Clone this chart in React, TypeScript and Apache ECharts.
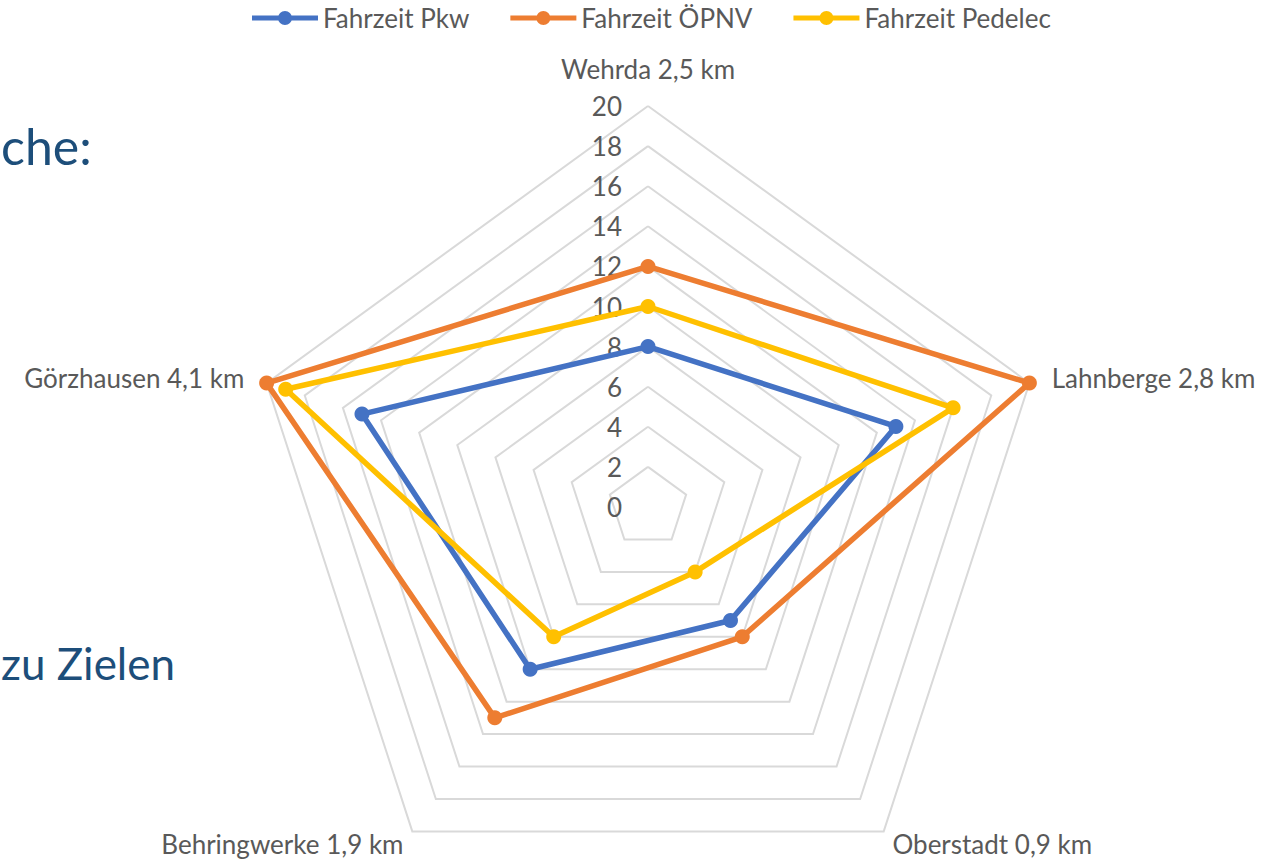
import React, { useEffect, useRef } from 'react';
import * as echarts from 'echarts';

// Categories in the reference's clockwise order, starting at the top
const categories = ['Wehrda 2,5 km', 'Lahnberge 2,8 km', 'Oberstadt 0,9 km', 'Behringwerke 1,9 km', 'Görzhausen 4,1 km'];
const seriesNames = ['Fahrzeit Pkw', 'Fahrzeit ÖPNV', 'Fahrzeit Pedelec'];
const pkwValues = [8, 13, 7, 10, 15];
const oepnvValues = [12, 20, 8, 13, 20];
const pedelecValues = [10, 16, 4, 8, 19];
const axisMin = 0;
const axisMax = 20;
const axisSplits = 10;
const slideTexts = ['che:', 'zu Zielen'];

const COLORS = ['#4472C4', '#ED7D31', '#FFC000'];
const FONT = 'Lato, "Noto Sans", sans-serif';
const GRAY = '#595959';
const LEGEND_ICON = 'path://M0,4.5 L66,4.5 L66,9.5 L0,9.5 Z M33,0 A7,7 0 1 1 33,14 A7,7 0 1 1 33,0 Z';

// ECharts places radar indicators counter-clockwise; reorder to get a clockwise layout
const ccwOrder = [0, 4, 3, 2, 1];
const reorder = (arr: any[]) => ccwOrder.map((i) => arr[i]);

export default function App() {
  const ref = useRef<HTMLDivElement>(null);
  useEffect(() => {
    if (!ref.current) return;
    const chart = echarts.init(ref.current, undefined, { renderer: 'svg' });
    const allValues = [pkwValues, oepnvValues, pedelecValues];
    const nameStyle = (name: string) => {
      const idx = categories.indexOf(name);
      if (idx === 0) return `{top|${name}}`;
      if (idx === 1) return `{right|${name}}`;
      if (idx === 4) return `{left|${name}}`;
      return `{bottom|${name}}`;
    };
    const txt = { color: GRAY, fontSize: 26, fontFamily: FONT };
    chart.setOption({
      animation: false,
      backgroundColor: '#ffffff',
      textStyle: { fontFamily: FONT },
      legend: {
        top: 0,
        left: 247,
        itemWidth: 66,
        itemHeight: 14,
        itemGap: 41,
        textStyle: { color: GRAY, fontSize: 26, fontFamily: FONT },
        data: seriesNames.map((n, i) => ({ name: n, icon: LEGEND_ICON, itemStyle: { color: COLORS[i], borderWidth: 0 } })),
      },
      graphic: [
        {
          type: 'text',
          x: 1,
          y: 146,
          style: { text: slideTexts[0], fill: '#1D4E7A', font: `50px ${FONT}`, textAlign: 'left', textVerticalAlign: 'middle' },
        },
        {
          type: 'text',
          x: 1,
          y: 663,
          style: { text: slideTexts[1], fill: '#1D4E7A', font: `44px ${FONT}`, textAlign: 'left', textVerticalAlign: 'middle' },
        },
      ],
      radar: {
        center: [648, 507],
        radius: 401,
        startAngle: 90,
        splitNumber: axisSplits,
        shape: 'polygon',
        nameGap: 15,
        indicator: reorder(categories).map((name, k) => ({
          name,
          min: axisMin,
          max: axisMax,
          axisLabel: { show: k === 0 },
        })),
        axisName: {
          ...txt,
          formatter: nameStyle,
          rich: {
            top: { ...txt, padding: [0, 0, 9, 0] },
            right: { ...txt, padding: [0, 0, 0, 8] },
            left: { ...txt, padding: [0, 8, 0, 0] },
            bottom: { ...txt, padding: [0, 0, 0, 0] },
          },
        },
        axisLine: { show: false },
        axisTick: { show: false },
        axisLabel: { show: true, color: GRAY, fontSize: 26, fontFamily: FONT, margin: 26 },
        splitLine: { lineStyle: { color: '#D9D9D9', width: 2 } },
        splitArea: { show: false },
      },
      series: seriesNames.map((name, i) => ({
        type: 'radar',
        name,
        symbol: 'circle',
        symbolSize: 15,
        lineStyle: { width: 5.5, color: COLORS[i] },
        itemStyle: { color: COLORS[i] },
        data: [{ name, value: reorder(allValues[i]) }],
      })),
    });
    return () => chart.dispose();
  }, []);
  return <div ref={ref} style={{ position: 'fixed', left: 0, top: 0, width: 1268, height: 860 }} />;
}
